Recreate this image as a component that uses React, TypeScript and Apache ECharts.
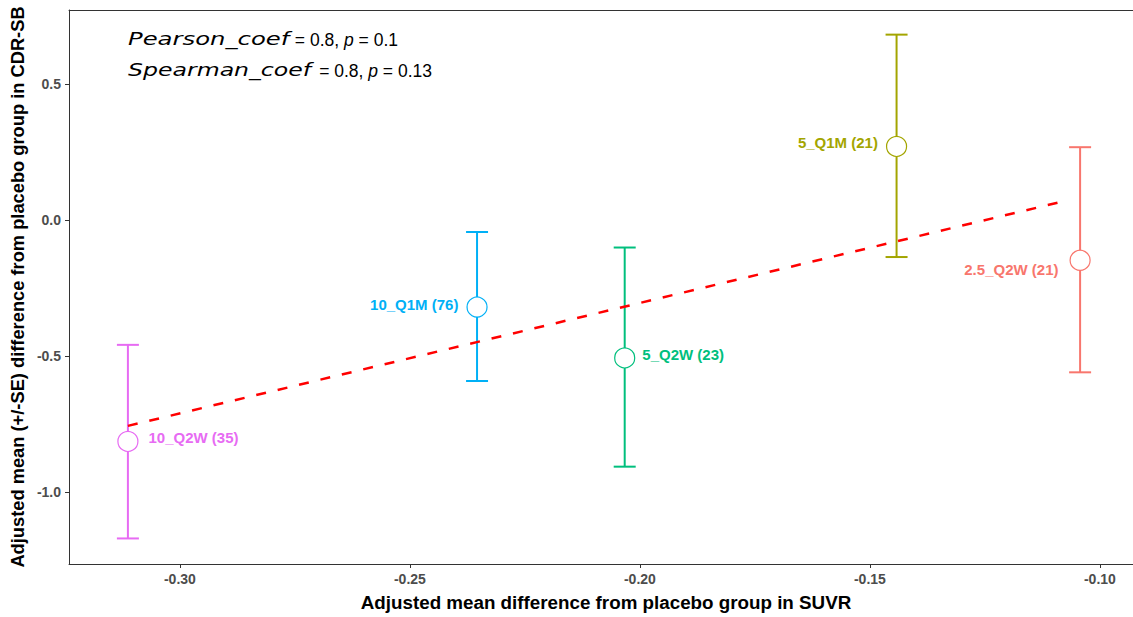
import React, { useEffect, useRef } from "react";
import * as echarts from "echarts";

const groups = ["10_Q2W (35)", "10_Q1M (76)", "5_Q2W (23)", "5_Q1M (21)", "2.5_Q2W (21)"];
const suvrDiff = [-0.3113, -0.2354, -0.2033, -0.1442, -0.1043];
const cdrMean = [-0.814, -0.32, -0.507, 0.271, -0.148];
const cdrUpper = [-0.459, -0.044, -0.101, 0.682, 0.268];
const cdrLower = [-1.171, -0.592, -0.907, -0.136, -0.56];
const groupColors = ["#E76BF3", "#00B0F6", "#00BF7D", "#A3A500", "#F8766D"];
const trendX = [-0.3113, -0.1072];
const trendY = [-0.757, 0.072];
const xTicks = [-0.3, -0.25, -0.2, -0.15, -0.1];
const yTicks = [-1.0, -0.5, 0.0, 0.5];

const labelPlacement = [
  { position: "right", distance: 10, offset: [0, -3.5] },
  { position: "left", distance: 8, offset: [0, -3] },
  { position: "right", distance: 7, offset: [0, -3] },
  { position: "left", distance: 8, offset: [0, -3.5] },
  { position: "left", distance: 11, offset: [0, 9] },
];

const X_MIN = -0.3241;
const X_MAX = -0.0928;
const Y_MIN = -1.265;
const Y_MAX = 0.7726;

export default function App() {
  const ref = useRef<HTMLDivElement>(null);
  useEffect(() => {
    document.body.style.margin = "0";
    if (!ref.current) return;
    const chart = echarts.init(ref.current, null, { renderer: "svg" });
    const axisLineStyle = { color: "#333333", width: 1 };
    const option: any = {
      animation: false,
      backgroundColor: "#ffffff",
      grid: { left: 69, top: 10, right: 0, bottom: 51.5, containLabel: false },
      xAxis: [
        {
          type: "value",
          min: X_MIN,
          max: X_MAX,
          name: "Adjusted mean difference from placebo group in SUVR",
          nameLocation: "middle",
          nameGap: 29,
          nameTextStyle: {
            fontFamily: "Liberation Sans",
            fontWeight: "bold",
            fontSize: 18.8,
            color: "#000",
            padding: [0, 0, 0, 10],
          },
          axisLine: { show: true, onZero: false, lineStyle: axisLineStyle },
          axisTick: { show: true, length: 4, lineStyle: axisLineStyle, customValues: xTicks },
          axisLabel: {
            customValues: xTicks,
            formatter: (v: number) => v.toFixed(2),
            fontFamily: "Liberation Sans",
            fontWeight: "bold",
            fontSize: 14,
            color: "#4D4D4D",
            margin: 8,
          },
          splitLine: { show: false },
        },
        {
          type: "value",
          position: "top",
          min: X_MIN,
          max: X_MAX,
          axisLine: { show: true, onZero: false, lineStyle: axisLineStyle },
          axisTick: { show: false },
          axisLabel: { show: false },
          splitLine: { show: false },
        },
      ],
      yAxis: {
        type: "value",
        min: Y_MIN,
        max: Y_MAX,
        name: "Adjusted mean (+/-SE) difference from placebo group in CDR-SB",
        nameLocation: "middle",
        nameGap: 39,
        nameTextStyle: { fontFamily: "Liberation Sans", fontWeight: "bold", fontSize: 18.3, color: "#000" },
        axisLine: { show: true, onZero: false, lineStyle: axisLineStyle },
        axisTick: { show: true, length: 4, lineStyle: axisLineStyle, customValues: yTicks },
        axisLabel: {
          customValues: yTicks,
          formatter: (v: number) => v.toFixed(1),
          fontFamily: "Liberation Sans",
          fontWeight: "bold",
          fontSize: 14,
          color: "#4D4D4D",
          margin: 8,
        },
        splitLine: { show: false },
      },
      series: [
        {
          type: "custom",
          xAxisIndex: 0,
          z: 2,
          data: suvrDiff.map((x, i) => [x, cdrLower[i], cdrUpper[i]]),
          encode: { x: 0, y: [1, 2] },
          renderItem: (params: any, api: any) => {
            const x = api.value(0);
            const pLo = api.coord([x, api.value(1)]);
            const pHi = api.coord([x, api.value(2)]);
            const color = groupColors[params.dataIndex];
            const w = 11;
            const st = { stroke: color, lineWidth: 2 };
            return {
              type: "group",
              children: [
                { type: "line", shape: { x1: pHi[0], y1: pHi[1], x2: pLo[0], y2: pLo[1] }, style: st },
                { type: "line", shape: { x1: pHi[0] - w, y1: pHi[1], x2: pHi[0] + w, y2: pHi[1] }, style: st },
                { type: "line", shape: { x1: pLo[0] - w, y1: pLo[1], x2: pLo[0] + w, y2: pLo[1] }, style: st },
              ],
            };
          },
        },
        {
          type: "line",
          xAxisIndex: 0,
          z: 3,
          symbol: "none",
          data: trendX.map((x, i) => [x, trendY[i]]),
          lineStyle: { color: "#FF0000", width: 2.5, type: [10, 12] },
        },
        {
          type: "scatter",
          xAxisIndex: 0,
          z: 4,
          symbol: "circle",
          symbolSize: 20,
          data: groups.map((g, i) => ({
            name: g,
            value: [suvrDiff[i], cdrMean[i]],
            itemStyle: { color: "#ffffff", borderColor: groupColors[i], borderWidth: 1.2, opacity: 1 },
            label: {
              show: true,
              formatter: "{b}",
              color: groupColors[i],
              position: labelPlacement[i].position,
              distance: labelPlacement[i].distance,
              offset: labelPlacement[i].offset,
              fontFamily: "Liberation Sans",
              fontWeight: "bold",
              fontSize: 15,
            },
          })),
        },
      ],
      graphic: [
        {
          type: "text",
          x: 128,
          y: 39,
          scaleX: 1.39,
          style: { text: "Pearson_coef", font: 'italic 17.5px "DejaVu Sans"', fill: "#000", verticalAlign: "middle" },
        },
        {
          type: "text",
          x: 398,
          y: 40,
          style: {
            text: "= 0.8, {i|p} = 0.1",
            fontFamily: "Liberation Sans",
            fontSize: 17.5,
            fill: "#000",
            align: "right",
            verticalAlign: "middle",
            rich: { i: { fontStyle: "italic", fontFamily: "Liberation Sans", fontSize: 17.5, fill: "#000" } },
          },
        },
        {
          type: "text",
          x: 128,
          y: 70,
          scaleX: 1.35,
          style: { text: "Spearman_coef", font: 'italic 17.5px "DejaVu Sans"', fill: "#000", verticalAlign: "middle" },
        },
        {
          type: "text",
          x: 432,
          y: 71,
          style: {
            text: "= 0.8, {i|p} = 0.13",
            fontFamily: "Liberation Sans",
            fontSize: 17.5,
            fill: "#000",
            align: "right",
            verticalAlign: "middle",
            rich: { i: { fontStyle: "italic", fontFamily: "Liberation Sans", fontSize: 17.5, fill: "#000" } },
          },
        },
      ],
    };
    chart.setOption(option);
    return () => chart.dispose();
  }, []);
  return <div ref={ref} style={{ width: 1133, height: 617 }} />;
}
